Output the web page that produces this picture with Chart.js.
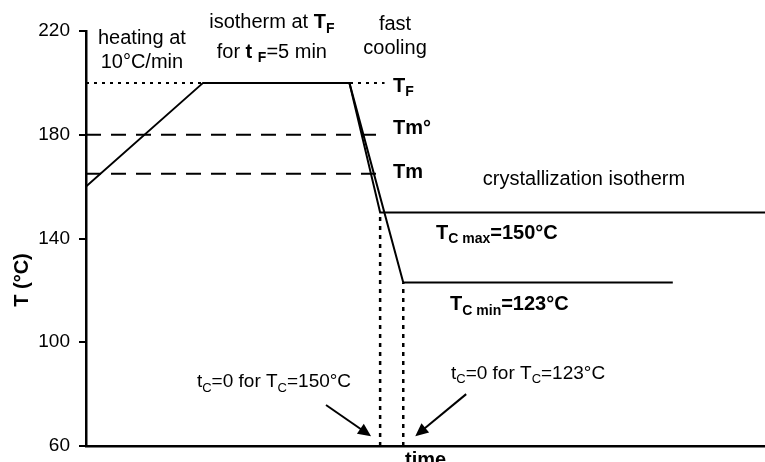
<!DOCTYPE html>
<html>
<head>
<meta charset="utf-8">
<script src="https://cdn.jsdelivr.net/npm/chart.js@4/dist/chart.umd.min.js"></script>
<style>
  html, body { margin: 0; padding: 0; background: #fff; }
  #wrap { width: 765px; height: 462px; }
</style>
</head>
<body>
<div id="wrap"><canvas id="chart" width="765" height="462"></canvas></div>
<script>
const FONT = '"Liberation Sans", Arial, sans-serif';

// temperature program (time in min, T in °C)
const yTicks = [60, 100, 140, 180, 220];
const timeMax = 23.2;
const tMaxTime = [0, 4, 9, 10.05, 23.2];
const tMaxTemp = [160, 200, 200, 150, 150];
const tMinTime = [9, 10.84, 20.05];
const tMinTemp = [200, 123, 123];
const levelTemps = [200, 180, 165];   // TF, Tm°, Tm
const levelEnds = [10.2, 10.25, 10.25];
const startTimes = [10.05, 10.84];    // tC = 0 markers
const startTemps = [150, 123];

// arrows [fromX, fromY, toX, toY] in data units
const arrows = [
  [8.2, 75.8, 9.74, 63.8],
  [12.99, 80, 11.25, 63.8]
];

// labels: x, y (data units), align, parts [text, style]
// styles: n normal, b bold, bs bold subscript, m smaller, ms smaller subscript
const notes = [
  [1.91, 217.3, "center", [["heating at", "n"]]],
  [1.91, 207.7, "center", [["10°C/min", "n"]]],
  [6.35, 223.1, "center", [["isotherm at ", "n"], ["T", "b"], ["F", "bs"]]],
  [6.35, 211.9, "center", [["for ", "n"], ["t ", "b"], ["F", "bs"], ["=5 min", "n"]]],
  [10.56, 222.7, "center", [["fast", "n"]]],
  [10.56, 213.1, "center", [["cooling", "n"]]],
  [10.49, 198.8, "left", [["T", "b"], ["F", "bs"]]],
  [10.49, 182.6, "left", [["Tm°", "b"]]],
  [10.49, 165.6, "left", [["Tm", "b"]]],
  [13.56, 162.6, "left", [["crystallization isotherm", "n"]]],
  [11.96, 142.1, "left", [["T", "b"], ["C max", "bs"], ["=150°C", "b"]]],
  [12.44, 114.4, "left", [["T", "b"], ["C min", "bs"], ["=123°C", "b"]]],
  [3.79, 84.7, "left", [["t", "m"], ["C", "ms"], ["=0 for T", "m"], ["C", "ms"], ["=150°C", "m"]]],
  [12.47, 87.8, "left", [["t", "m"], ["C", "ms"], ["=0 for T", "m"], ["C", "ms"], ["=123°C", "m"]]],
  [10.9, 54.6, "left", [["time", "b"]]]
];

const styles = {
  n: { font: "20px " + FONT, dy: 0 },
  b: { font: "bold 20px " + FONT, dy: 0 },
  bs: { font: "bold 14px " + FONT, dy: 6 },
  m: { font: "19px " + FONT, dy: 0 },
  ms: { font: "13px " + FONT, dy: 6 }
};

function pts(xs, ys) {
  return xs.map((x, i) => ({ x: x, y: ys[i] }));
}

function line(data, dash, width) {
  return {
    data: data,
    showLine: true,
    borderColor: "#000",
    borderWidth: width || 2,
    borderDash: dash || [],
    pointRadius: 0,
    fill: false,
    tension: 0
  };
}

const datasets = [
  line(pts(tMaxTime, tMaxTemp)),
  line(pts(tMinTime, tMinTemp)),
  line([{ x: 0, y: levelTemps[0] }, { x: levelEnds[0], y: levelTemps[0] }], [3, 5], 2),
  line([{ x: 0, y: levelTemps[1] }, { x: levelEnds[1], y: levelTemps[1] }], [15, 10], 2),
  line([{ x: 0, y: levelTemps[2] }, { x: levelEnds[2], y: levelTemps[2] }], [15, 10], 2)
];
startTimes.forEach((t, i) => {
  datasets.push(line([{ x: t, y: yTicks[0] }, { x: t, y: startTemps[i] }], [4, 5], 2.5));
});

const annotate = {
  id: "annotate",
  afterDraw(chart) {
    const ctx = chart.ctx;
    const xs = chart.scales.x, ys = chart.scales.y;
    ctx.save();
    ctx.fillStyle = "#000";
    ctx.strokeStyle = "#000";

    // arrows
    arrows.forEach(a => {
      const x1 = xs.getPixelForValue(a[0]), y1 = ys.getPixelForValue(a[1]);
      const x2 = xs.getPixelForValue(a[2]), y2 = ys.getPixelForValue(a[3]);
      const ang = Math.atan2(y2 - y1, x2 - x1);
      const head = 13, half = 6;
      ctx.lineWidth = 2;
      ctx.beginPath();
      ctx.moveTo(x1, y1);
      ctx.lineTo(x2 - Math.cos(ang) * head * 0.8, y2 - Math.sin(ang) * head * 0.8);
      ctx.stroke();
      ctx.beginPath();
      ctx.moveTo(x2, y2);
      ctx.lineTo(x2 - Math.cos(ang) * head - Math.sin(ang) * half, y2 - Math.sin(ang) * head + Math.cos(ang) * half);
      ctx.lineTo(x2 - Math.cos(ang) * head + Math.sin(ang) * half, y2 - Math.sin(ang) * head - Math.cos(ang) * half);
      ctx.closePath();
      ctx.fill();
    });

    // text labels
    ctx.textBaseline = "middle";
    ctx.textAlign = "left";
    notes.forEach(n => {
      let x = xs.getPixelForValue(n[0]);
      const y = ys.getPixelForValue(n[1]);
      let total = 0;
      n[3].forEach(p => { ctx.font = styles[p[1]].font; total += ctx.measureText(p[0]).width; });
      if (n[2] === "center") x -= total / 2;
      n[3].forEach(p => {
        const st = styles[p[1]];
        ctx.font = st.font;
        ctx.fillText(p[0], x, y + st.dy);
        x += ctx.measureText(p[0]).width;
      });
    });

    // y axis title
    ctx.translate(ys.left + 22, ys.getPixelForValue(124));
    ctx.rotate(-Math.PI / 2);
    ctx.textAlign = "center";
    ctx.font = "bold 20px " + FONT;
    ctx.fillText("T (°C)", 0, 0);
    ctx.restore();
  }
};

new Chart(document.getElementById("chart"), {
  type: "scatter",
  data: { datasets: datasets },
  options: {
    responsive: false,
    animation: false,
    devicePixelRatio: 1,
    layout: { padding: { top: 31, left: 0, right: 0, bottom: 0 } },
    plugins: { legend: { display: false }, tooltip: { enabled: false } },
    scales: {
      x: {
        type: "linear",
        min: 0,
        max: timeMax,
        ticks: { display: false },
        grid: { display: false, drawTicks: false },
        border: { display: true, color: "#000", width: 2.5 },
        afterFit(scale) { scale.height = 16; }
      },
      y: {
        min: yTicks[0],
        max: yTicks[yTicks.length - 1],
        afterBuildTicks(scale) { scale.ticks = yTicks.map(v => ({ value: v })); },
        ticks: { color: "#000", font: { family: FONT, size: 19 }, padding: 9 },
        grid: { drawOnChartArea: false, drawTicks: true, tickLength: 7, color: "#000", lineWidth: 2 },
        border: { display: true, color: "#000", width: 2.5 },
        afterFit(scale) {
          scale.width = 86;
          scale.paddingTop = 0;
          scale.paddingBottom = 0;
        }
      }
    }
  },
  plugins: [annotate]
});
</script>
</body>
</html>
